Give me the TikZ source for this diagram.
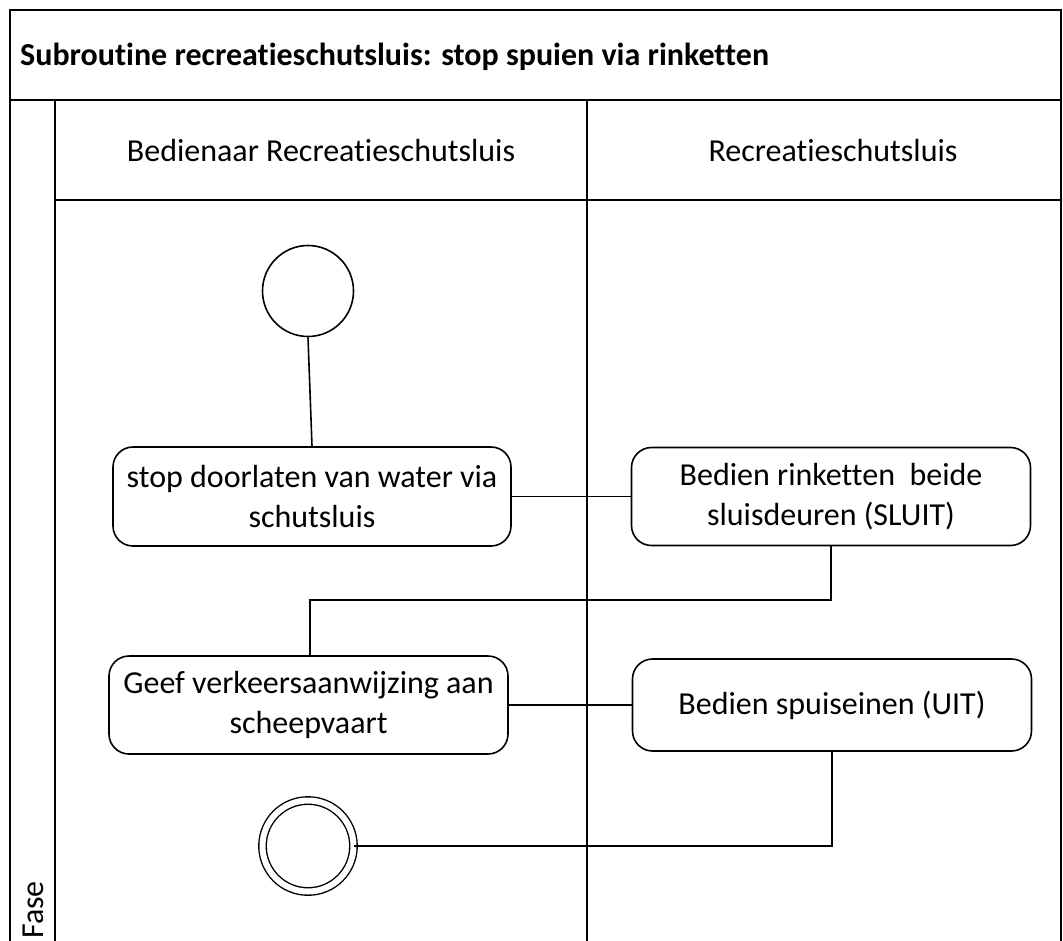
\documentclass[tikz,border=0pt]{standalone}
\usepackage{fontspec}
\setmainfont{Carlito}[Ligatures={NoCommon}]
\begin{document}
\begin{tikzpicture}[x=1pt,y=-1pt,
  frame/.style={line width=1.8pt, black},
  act/.style={draw, line width=1.6pt, rounded corners=20pt, minimum width=#1, minimum height=98pt, align=center, inner sep=0pt, font=\fontsize{32}{40}\selectfont},
  evt/.style={draw, line width=1.6pt, circle, inner sep=0pt, minimum size=#1},
  conn/.style={line width=1.6pt, black}]
\useasboundingbox (0,0) rectangle (1063,940);
\clip (0,0) rectangle (1063,940);
% frames
\draw[frame] (10,960) -- (10,10) -- (1061,10) -- (1061,960);
\draw[frame] (10,100) -- (1061,100);
\draw[frame] (55,100) -- (55,960);
\draw[frame] (55,200) -- (1061,200);
\draw[frame] (587,100) -- (587,960);
% titles
\node[anchor=west, inner sep=0pt, font=\fontsize{32}{38}\selectfont\bfseries] (title) at (20,57) {Subroutine recreatieschutsluis: stop spuien via rinketten};
\node[inner sep=0pt, font=\fontsize{32}{38}\selectfont] (lane1) at (321,151) {Bedienaar Recreatieschutsluis};
\node[inner sep=0pt, font=\fontsize{32}{38}\selectfont] (lane2) at (833,151) {Recreatieschutsluis};
\node[rotate=90, anchor=west, inner sep=0pt, font=\fontsize{32}{38}\selectfont] (fase) at (33,939) {Fase};
% nodes
\node[evt=91pt] (start) at (308,291) {};
\node[act=398pt, minimum height=99pt] (a1) at (312,496.5) {stop doorlaten van water via\\schutsluis};
\node[act=399pt, minimum height=98pt] (a2) at (831,496.5) {Bedien rinketten~ beide\\sluisdeuren (SLUIT)};
\node[act=399pt] (a3) at (308.5,705) {Geef verkeersaanwijzing aan\\scheepvaart};
\node[act=399pt, minimum height=92pt] (a4) at (832,705) {Bedien spuiseinen (UIT)};
\node[evt=91pt, double distance=6pt, line width=1.4pt] (end) at (308,846) {};
\coordinate (k1) at (831,600);
\coordinate (k2) at (310,600);
% connectors
\draw[conn] (start.south) -- (a1.north);
\draw[conn] (a1.east) -- (a2.west);
\draw[conn] (a2.south) -- (k1) -- (k2) -- (k2 |- a3.north);
\draw[conn] (a3.east) -- (a4.west);
\draw[conn] (a4.south) -- (a4.south |- end) -- (end.east);
\end{tikzpicture}
\end{document}
